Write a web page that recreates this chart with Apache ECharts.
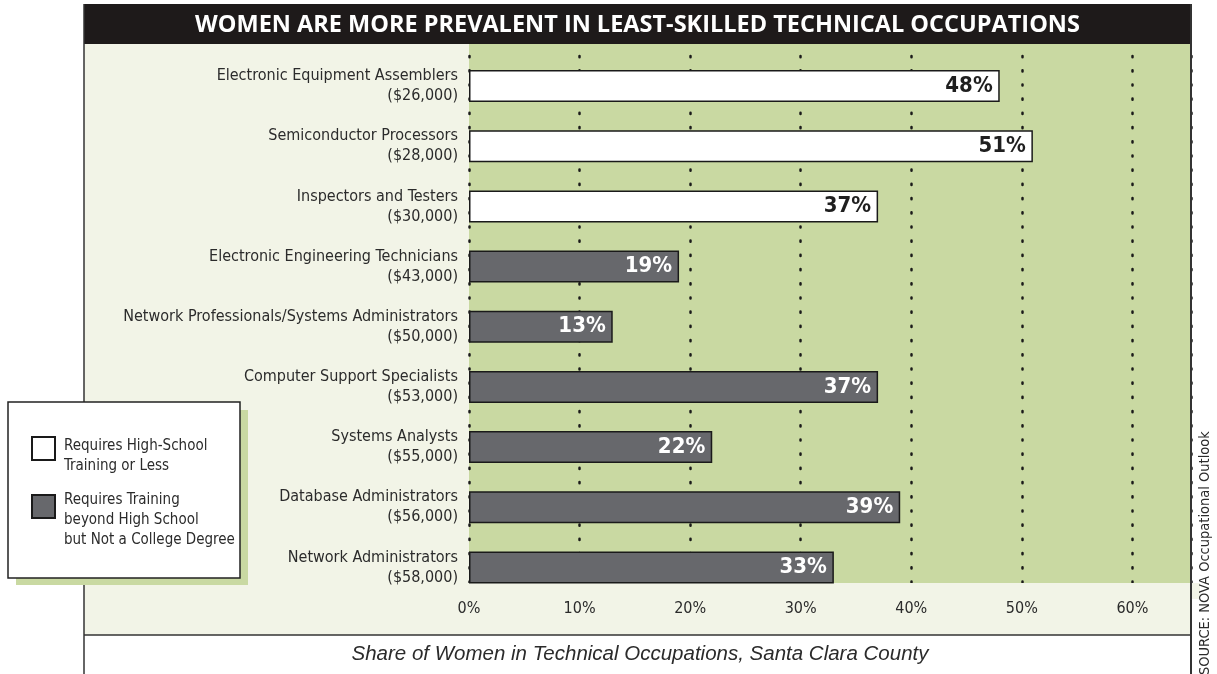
<!DOCTYPE html>
<html>
<head>
<meta charset="utf-8">
<title>Share of Women in Technical Occupations</title>
<script src="https://cdn.jsdelivr.net/npm/echarts@6/dist/echarts.min.js"></script>
<style>
  html, body { margin: 0; padding: 0; background: #fff; }
  #chart { width: 1217px; height: 674px; }
</style>
</head>
<body>
<div id="chart"></div>
<script>
// occupations, top to bottom
const occupations = [
  'Electronic Equipment Assemblers',
  'Semiconductor Processors',
  'Inspectors and Testers',
  'Electronic Engineering Technicians',
  'Network Professionals/Systems Administrators',
  'Computer Support Specialists',
  'Systems Analysts',
  'Database Administrators',
  'Network Administrators'
]
const salaries = ['$26,000', '$28,000', '$30,000', '$43,000', '$50,000', '$53,000', '$55,000', '$56,000', '$58,000']
const womenShare = [48, 51, 37, 19, 13, 37, 22, 39, 33]
// 'hs' = high-school training or less, 'beyond' = beyond high school
const trainingLevel = ['hs', 'hs', 'hs', 'beyond', 'beyond', 'beyond', 'beyond', 'beyond', 'beyond']
const levelNames = {
  hs: 'Requires High-School\nTraining or Less',
  beyond: 'Requires Training\nbeyond High School\nbut Not a College Degree'
}
const xTickStep = 10
const xTickLast = 60

const NARROW = '"Liberation Sans Narrow", "DejaVu Sans Condensed", "Roboto", sans-serif'
const GREEN = '#c9d9a2'
const LIGHT = '#f2f4e7'
const DARK_BAR = '#67686c'
const INK = '#2b2b2b'

const categories = occupations.map((name, i) => name + '\n(' + salaries[i] + ')')
const levelValues = level => womenShare.map((v, i) => (trainingLevel[i] === level ? v : '-'))

const chart = echarts.init(document.getElementById('chart'))

const barLabel = color => ({
  show: true,
  position: 'insideRight',
  distance: 7,
  formatter: '{c}%',
  color: color,
  fontFamily: NARROW,
  fontWeight: 'bold',
  fontSize: 22
})

// one legend per entry; an empty first line pushes the text below the swatch centre
const legendEntry = (name, top, gap) => ({
  orient: 'vertical',
  left: 31,
  top: top,
  padding: 0,
  itemWidth: 23,
  itemHeight: 23,
  icon: 'rect',
  selectedMode: false,
  formatter: n => '{gap|}\n' + n.split('\n').map(line => '{t|' + line + '}').join('\n'),
  textStyle: {
    color: INK,
    fontFamily: NARROW,
    fontSize: 15,
    rich: {
      gap: { lineHeight: gap, fontSize: 1 },
      t: { color: INK, fontFamily: NARROW, fontSize: 15, lineHeight: 20, padding: [0, 0, 0, 4] }
    }
  },
  data: [name]
})

const option = {
  animation: false,
  title: [
    {
      text: 'WOMEN ARE MORE PREVALENT IN LEAST-SKILLED TECHNICAL OCCUPATIONS',
      left: 637.5,
      top: 13,
      textAlign: 'center',
      padding: 0,
      textStyle: { color: '#fff', fontFamily: '"Open Sans", sans-serif', fontWeight: 'bold', fontSize: 23.5 }
    },
    {
      text: 'Share of Women in Technical Occupations, Santa Clara County',
      left: 640,
      top: 644,
      textAlign: 'center',
      padding: 0,
      textStyle: { color: INK, fontFamily: '"Liberation Sans", sans-serif', fontStyle: 'italic', fontWeight: 'normal', fontSize: 20.5 }
    }
  ],
  legend: [
    legendEntry(levelNames.hs, 428, 15),
    legendEntry(levelNames.beyond, 476, 27)
  ],
  grid: { left: 469, right: 26, top: 56, height: 541.5 },
  xAxis: {
    type: 'value',
    min: 0,
    max: 65.3,
    interval: xTickStep,
    axisLine: { show: false },
    axisTick: { show: false },
    axisLabel: {
      margin: 3,
      color: INK,
      fontFamily: NARROW,
      fontSize: 16,
      showMaxLabel: false,
      formatter: v => (v % xTickStep === 0 && v <= xTickLast ? v + '%' : '')
    },
    splitLine: {
      show: true,
      lineStyle: { color: '#1a1a1a', width: 2.5, type: [1.2, 13], cap: 'round' }
    }
  },
  yAxis: {
    type: 'category',
    inverse: true,
    data: categories,
    axisLine: { show: false },
    axisTick: { show: false },
    axisLabel: {
      margin: 11,
      color: INK,
      fontFamily: NARROW,
      fontSize: 16,
      lineHeight: 20,
      align: 'right'
    }
  },
  series: [
    {
      name: levelNames.hs,
      type: 'bar',
      barWidth: 32,
      barGap: '-100%',
      data: levelValues('hs'),
      itemStyle: { color: '#fff', borderColor: '#1a1a1a', borderWidth: 1.5 },
      label: barLabel('#1f1f1f')
    },
    {
      name: levelNames.beyond,
      type: 'bar',
      barWidth: 32,
      barGap: '-100%',
      data: levelValues('beyond'),
      itemStyle: { color: DARK_BAR, borderColor: '#1a1a1a', borderWidth: 1.5 },
      label: barLabel('#fff')
    }
  ],
  graphic: [
    // panel backgrounds
    { type: 'rect', z: -5, shape: { x: 84, y: 44, width: 1107, height: 591 }, style: { fill: LIGHT } },
    { type: 'rect', z: -4, shape: { x: 469, y: 44, width: 722, height: 539 }, style: { fill: GREEN } },
    { type: 'rect', z: -4, shape: { x: 84, y: 4, width: 1107, height: 40 }, style: { fill: '#1e1a1a' } },
    // hide gridline dots below the green area
    { type: 'rect', z: 1, shape: { x: 460, y: 583, width: 740, height: 16 }, style: { fill: LIGHT } },
    // frame lines
    { type: 'line', z: 1, shape: { x1: 84, y1: 4, x2: 84, y2: 674 }, style: { stroke: '#333', lineWidth: 1.5 } },
    { type: 'line', z: 1, shape: { x1: 1191, y1: 4, x2: 1191, y2: 674 }, style: { stroke: '#333', lineWidth: 2 } },
    { type: 'line', z: 1, shape: { x1: 84, y1: 635, x2: 1191, y2: 635 }, style: { stroke: '#333', lineWidth: 1.5 } },
    // legend box with green drop shadow
    { type: 'rect', z: 3, shape: { x: 16, y: 410, width: 232, height: 175 }, style: { fill: GREEN } },
    { type: 'rect', z: 3, shape: { x: 8, y: 402, width: 232, height: 176 }, style: { fill: '#fff', stroke: '#222', lineWidth: 1.5 } },
    // source note
    {
      type: 'text',
      z: 3,
      x: 1213,
      y: 675,
      rotation: Math.PI / 2,
      style: {
        text: 'SOURCE: NOVA Occupational Outlook',
        fill: INK,
        font: '14.5px ' + NARROW,
        textAlign: 'left',
        textVerticalAlign: 'bottom'
      }
    }
  ]
}

chart.setOption(option)
window.addEventListener('resize', () => chart.resize())
</script>
</body>
</html>
